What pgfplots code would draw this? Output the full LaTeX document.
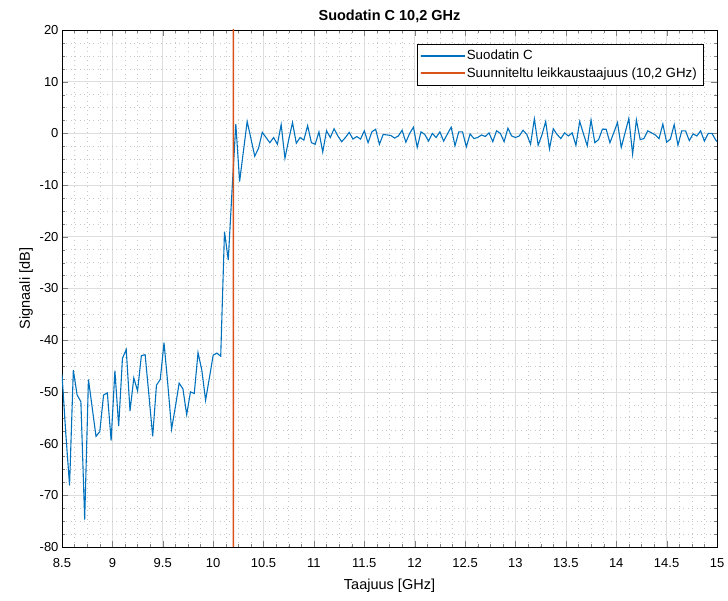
\documentclass[border=0pt]{standalone}
\usepackage{pgfplots}
\usepackage{pgfplotstable}
\pgfplotsset{compat=1.18}
\usepackage{fontspec}
\setmainfont{Liberation Sans}

\definecolor{matblue}{rgb}{0,0.447,0.741}
\definecolor{matorange}{rgb}{0.85,0.325,0.098}

\pgfplotstableread{
f s
8.5 -46.6
8.5375 -58.0
8.575 -68.1
8.6125 -45.8
8.65 -50.6
8.6875 -51.9
8.725 -74.7
8.7625 -47.6
8.8 -53.1
8.8375 -58.6
8.875 -57.7
8.9125 -50.6
8.95 -50.2
8.9875 -59.4
9.025 -45.9
9.0625 -56.6
9.1 -43.5
9.1375 -41.8
9.175 -53.7
9.2125 -47.3
9.25 -49.8
9.2875 -43.0
9.325 -42.8
9.3625 -50.6
9.4 -58.6
9.4375 -48.7
9.475 -47.6
9.5125 -40.5
9.55 -48.5
9.5875 -57.2
9.625 -52.9
9.6625 -48.3
9.7 -49.4
9.7375 -54.4
9.775 -50.0
9.8125 -50.3
9.85 -42.4
9.8875 -45.8
9.925 -51.6
9.9625 -47.3
10.0 -42.9
10.0375 -42.5
10.075 -43.1
10.1125 -19.0
10.15 -24.5
10.1875 -11.0
10.225 1.8
10.2625 -9.3
10.3 -3.5
10.3375 2.3
10.375 -1.0
10.4125 -4.4
10.45 -2.9
10.4875 0.2
10.525 -0.8
10.5625 -1.8
10.6 -0.8
10.6375 -2.1
10.675 1.7
10.7125 -4.8
10.75 -1.2
10.7875 2.1
10.825 -1.9
10.8625 -0.8
10.9 -1.3
10.9375 1.5
10.975 -1.8
11.0125 -2.1
11.05 0.3
11.0875 -3.6
11.125 0.5
11.1625 -0.8
11.2 0.9
11.2375 -0.5
11.275 -1.6
11.3125 -0.8
11.35 0.2
11.3875 -1.1
11.425 -0.6
11.4625 -1.1
11.5 0.5
11.5375 -1.8
11.575 0.3
11.6125 0.8
11.65 -2.1
11.6875 -0.2
11.725 -0.3
11.7625 -0.4
11.8 -0.9
11.8375 -0.5
11.875 0.6
11.9125 -1.7
11.95 0.0
11.9875 1.2
12.025 -2.7
12.0625 0.3
12.1 -0.2
12.1375 -1.5
12.175 0.0
12.2125 -0.8
12.25 0.3
12.2875 -1.5
12.325 -0.1
12.3625 1.2
12.4 -2.4
12.4375 0.3
12.475 0.3
12.5125 -2.6
12.55 -0.1
12.5875 -1.0
12.625 -0.8
12.6625 -0.3
12.7 -0.6
12.7375 0.1
12.775 -1.6
12.8125 0.5
12.85 0.0
12.8875 -1.6
12.925 1.0
12.9625 -0.5
13.0 -0.8
13.0375 -0.5
13.075 0.6
13.1125 -0.2
13.15 -2.1
13.1875 2.8
13.225 -2.3
13.2625 -0.3
13.3 2.3
13.3375 -3.0
13.375 0.9
13.4125 -0.2
13.45 -1.0
13.4875 0.1
13.525 -0.5
13.5625 0.1
13.6 -2.3
13.6375 2.3
13.675 -0.1
13.7125 -2.4
13.75 2.6
13.7875 -1.8
13.825 -1.2
13.8625 0.8
13.9 0.8
13.9375 -1.8
13.975 0.1
14.0125 2.1
14.05 -2.7
14.0875 0.1
14.125 2.9
14.1625 -4.0
14.2 2.6
14.2375 -1.2
14.275 -1.0
14.3125 0.5
14.35 0.1
14.3875 -0.3
14.425 -1.0
14.4625 1.8
14.5 -1.7
14.5375 -1.1
14.575 1.7
14.6125 -2.3
14.65 0.5
14.6875 0.5
14.725 -1.4
14.7625 -0.1
14.8 -0.5
14.8375 0.5
14.875 -1.5
14.9125 0.0
14.95 0.0
14.9875 -1.3
15.025 -2.0
}\suodatin

% cutoff marker at 10.2 GHz, a band one line width wide
\pgfplotstableread{
f s
10.193 -80
10.207 -80
10.207 20
10.193 20
}\raja

\begin{document}
\begin{tikzpicture}
\begin{axis}[
    width=655pt, height=517pt, scale only axis,
    xmin=8.5, xmax=15, ymin=-80, ymax=20,
    xtick={8.5,9,9.5,10,10.5,11,11.5,12,12.5,13,13.5,14,14.5,15},
    ytick={-80,-70,-60,-50,-40,-30,-20,-10,0,10,20},
    minor x tick num=3, minor y tick num=3,
    grid=both,
    major grid style={black!13, line width=0.6pt},
    minor grid style={black!22, line width=0.5pt, dash pattern=on 0.7pt off 3.8pt},
    tick align=inside,
    major tick length=6pt, minor tick length=3pt,
    axis line style={line width=0.6pt},
    /pgf/number format/assume math mode=true,
    tick label style={font=\fontsize{13}{15}\selectfont},
    xticklabel style={yshift=-8pt},
    xlabel={Taajuus [GHz]},
    ylabel={Signaali [dB]},
    xlabel style={yshift=-4pt},
    label style={font=\fontsize{14.5}{17}\selectfont},
    title={Suodatin C 10,2 GHz},
    title style={font=\bfseries\fontsize{14.5}{17}\selectfont, yshift=-2pt},
    legend style={at={(0.9786,0.973)}, anchor=north east,
        font=\fontsize{13.3}{16}\selectfont, cells={anchor=west},
        inner sep=4pt, row sep=2.5pt},
    legend image code/.code={\path[#1] (0pt,-0.6pt) rectangle (44pt,0.6pt);},
]
\addplot[matblue, line width=1.1pt, forget plot] table[x=f, y=s] {\suodatin};
\addplot[draw=none, left color=matorange, right color=matorange, forget plot] table[x=f, y=s] {\raja};
\addlegendimage{draw=none, left color=matblue, right color=matblue}
\addlegendentry{Suodatin C}
\addlegendimage{draw=none, left color=matorange, right color=matorange}
\addlegendentry{Suunniteltu leikkaustaajuus (10,2 GHz)}
\end{axis}
\pgfresetboundingbox
\path[use as bounding box] ([shift={(-62pt,-54pt)}]current axis.south west) rectangle ++(728pt,601pt);
\end{tikzpicture}
\end{document}
